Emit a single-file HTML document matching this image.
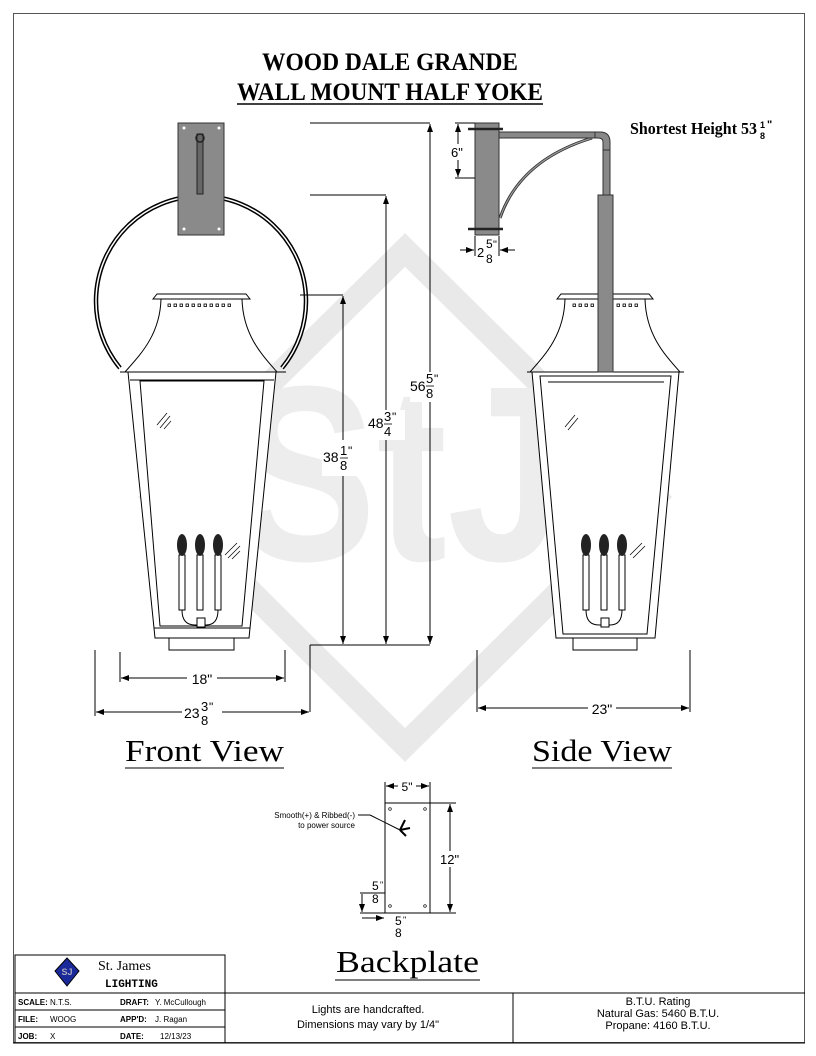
<!DOCTYPE html>
<html><head><meta charset="utf-8"><style>
html,body{margin:0;padding:0;background:#fff}
svg{display:block}
text{font-family:"Liberation Sans",sans-serif}
</style></head><body>
<svg width="816" height="1056" viewBox="0 0 816 1056" xmlns="http://www.w3.org/2000/svg">
<defs>
<marker id="a" markerWidth="8" markerHeight="6" refX="8" refY="3" orient="auto"><path d="M0,0 L8,3 L0,6 z" fill="#000"/></marker>
<marker id="b" markerWidth="8" markerHeight="6" refX="0" refY="3" orient="auto"><path d="M8,0 L0,3 L8,6 z" fill="#000"/></marker>
</defs>
<!-- watermark -->
<path d="M405,250 L655,497 L405,745 L155,497 Z" fill="none" stroke="#e9e9e9" stroke-width="24"/>
<text x="400" y="560" text-anchor="middle" font-size="250" font-weight="bold" fill="#ededed" textLength="330" lengthAdjust="spacingAndGlyphs">StJ</text>
<rect x="13.5" y="13.5" width="791" height="1029" fill="none" stroke="#555" stroke-width="1"/>
<!-- title -->
<text x="262" y="70" font-size="25" font-weight="bold" textLength="256" lengthAdjust="spacingAndGlyphs" style="font-family:'Liberation Serif',serif">WOOD DALE GRANDE</text>
<text x="237" y="100" font-size="25" font-weight="bold" textLength="306" lengthAdjust="spacingAndGlyphs" style="font-family:'Liberation Serif',serif">WALL MOUNT HALF YOKE</text>
<line x1="237" y1="104" x2="543" y2="104" stroke="#000" stroke-width="1.5"/>
<text x="630" y="134" font-size="17" font-weight="bold" textLength="127" lengthAdjust="spacingAndGlyphs" style="font-family:'Liberation Serif',serif">Shortest Height 53</text>
<text x="760" y="128" font-size="9" font-weight="bold">1</text>
<text x="760" y="139" font-size="9" font-weight="bold">8</text>
<text x="767" y="128" font-size="11" font-weight="bold">"</text>

<!-- FRONT VIEW -->
<path d="M120,368 A105,105 0 1,1 282,368" fill="none" stroke="#000" stroke-width="4.5"/>
<path d="M120,368 A105,105 0 1,1 282,368" fill="none" stroke="#fff" stroke-width="1.5"/>
<rect x="178" y="123" width="46" height="112" fill="#8a8a8a" stroke="#333"/>
<rect x="197" y="134" width="6" height="60" fill="#666" stroke="#222"/>
<circle cx="200" cy="138" r="4" fill="none" stroke="#222" stroke-width="1.5"/>
<circle cx="184" cy="128" r="1.5" fill="#fff"/><circle cx="219" cy="128" r="1.5" fill="#fff"/>
<circle cx="184" cy="229" r="1.5" fill="#fff"/><circle cx="219" cy="229" r="1.5" fill="#fff"/>
<path d="M153,299 L157,294 L246,294 L250,299 Z" fill="#fff" stroke="#000"/>
<path d="M161,299 C160,335 140,355 125,372 M242,299 C243,335 262,355 277,372" fill="none" stroke="#000"/>
<g fill="none" stroke="#000" stroke-width=".8">
<rect x="168" y="304" width="2.5" height="2.5"/><rect x="174" y="304" width="2.5" height="2.5"/><rect x="180" y="304" width="2.5" height="2.5"/><rect x="186" y="304" width="2.5" height="2.5"/><rect x="192" y="304" width="2.5" height="2.5"/><rect x="198" y="304" width="2.5" height="2.5"/><rect x="204" y="304" width="2.5" height="2.5"/><rect x="210" y="304" width="2.5" height="2.5"/><rect x="216" y="304" width="2.5" height="2.5"/><rect x="222" y="304" width="2.5" height="2.5"/><rect x="228" y="304" width="2.5" height="2.5"/>
</g>
<line x1="120" y1="372" x2="286" y2="372" stroke="#000"/>
<path d="M128,372 L276,372 L249,638 L155,638 Z" fill="#fff" stroke="#000"/>
<path d="M140,381 L264,381 L242,626 L160,626 Z" fill="none" stroke="#000"/>
<line x1="130" y1="380" x2="274" y2="380" stroke="#000"/>
<line x1="154" y1="628" x2="250" y2="628" stroke="#000"/>
<rect x="169" y="638" width="65" height="12" fill="#fff" stroke="#000"/>
<g stroke="#000" fill="#fff">
<rect x="179" y="555" width="6" height="55"/><rect x="197" y="555" width="6" height="55"/><rect x="215" y="555" width="6" height="55"/>
<path d="M182,610 Q182,625 195,625 L206,625 Q218,625 218,610" fill="none"/>
<rect x="197" y="618" width="8" height="9"/>
</g>
<g fill="#222"><ellipse cx="182" cy="545" rx="5" ry="11"/><ellipse cx="200" cy="545" rx="5" ry="11"/><ellipse cx="218" cy="545" rx="5" ry="11"/></g>
<g stroke="#000" stroke-width=".7"><line x1="157" y1="425" x2="167" y2="413"/><line x1="160" y1="428" x2="170" y2="416"/><line x1="164" y1="429" x2="171" y2="421"/>
<line x1="225" y1="555" x2="237" y2="543"/><line x1="228" y1="558" x2="240" y2="546"/><line x1="232" y1="559" x2="240" y2="551"/></g>

<!-- vertical dims -->
<g stroke="#000" stroke-width="1" fill="none">
<line x1="310" y1="123" x2="430" y2="123"/>
<line x1="310" y1="195" x2="386" y2="195"/>
<line x1="300" y1="295" x2="343" y2="295"/>
<line x1="310" y1="645" x2="430" y2="645"/>
<line x1="310" y1="645" x2="310" y2="712"/>
<line x1="343" y1="296" x2="343" y2="644" marker-start="url(#b)" marker-end="url(#a)"/>
<line x1="386" y1="196" x2="386" y2="644" marker-start="url(#b)" marker-end="url(#a)"/>
<line x1="430" y1="124" x2="430" y2="644" marker-start="url(#b)" marker-end="url(#a)"/>
</g>
<rect x="322" y="440" width="38" height="36" fill="#fff"/>
<text x="323" y="462" font-size="14">38</text><text x="340" y="455" font-size="13">1</text><text x="340" y="470" font-size="13">8</text><text x="348" y="455" font-size="12">"</text>
<line x1="340" y1="458" x2="348" y2="458" stroke="#000" stroke-width=".8"/>
<rect x="367" y="410" width="38" height="30" fill="#fff"/>
<text x="368" y="428" font-size="14">48</text><text x="384" y="421" font-size="13">3</text><text x="384" y="436" font-size="13">4</text><text x="392" y="421" font-size="12">"</text>
<line x1="384" y1="424" x2="392" y2="424" stroke="#000" stroke-width=".8"/>
<rect x="410" y="372" width="38" height="30" fill="#fff"/>
<text x="410" y="391" font-size="14">56</text><text x="426" y="383" font-size="13">5</text><text x="426" y="398" font-size="13">8</text><text x="434" y="383" font-size="12">"</text>
<line x1="426" y1="386" x2="434" y2="386" stroke="#000" stroke-width=".8"/>

<g stroke="#000" fill="none">
<line x1="120" y1="652" x2="120" y2="682"/><line x1="285" y1="650" x2="285" y2="682"/>
<line x1="121" y1="678" x2="284" y2="678" marker-start="url(#b)" marker-end="url(#a)"/>
<line x1="95" y1="650" x2="95" y2="716"/>
<line x1="96" y1="712" x2="309" y2="712" marker-start="url(#b)" marker-end="url(#a)"/>
</g>
<rect x="187" y="670" width="30" height="16" fill="#fff"/>
<text x="202" y="684" text-anchor="middle" font-size="14">18"</text>
<rect x="182" y="700" width="40" height="28" fill="#fff"/>
<text x="184" y="718" font-size="14">23</text><text x="201" y="711" font-size="13">3</text><text x="201" y="725" font-size="13">8</text><text x="209" y="711" font-size="12">"</text>
<text x="125" y="761" font-size="31" textLength="159" lengthAdjust="spacingAndGlyphs" style="font-family:'Liberation Serif',serif">Front View</text>
<line x1="125" y1="768" x2="284" y2="768" stroke="#000"/>

<!-- SIDE VIEW -->
<path d="M500,218 Q520,160 592,138" fill="none" stroke="#333" stroke-width="3"/>
<path d="M500,218 Q520,160 592,138" fill="none" stroke="#999" stroke-width="1.2"/>
<rect x="499" y="132" width="96" height="6" fill="#888" stroke="#333"/>
<path d="M595,132 L600,132 Q610,132 610,142 L610,150 L603,150 L603,142 Q603,138 598,138 L595,138 Z" fill="#888" stroke="#333"/>
<rect x="603" y="150" width="7" height="45" fill="#888" stroke="#333"/>
<rect x="475" y="123" width="24" height="112" fill="#8a8a8a" stroke="#333"/>
<line x1="468" y1="129" x2="503" y2="129" stroke="#222" stroke-width="2.5"/>
<line x1="468" y1="229" x2="503" y2="229" stroke="#222" stroke-width="2.5"/>
<path d="M557,299 L561,294 L649,294 L653,299 Z" fill="#fff" stroke="#000"/>
<path d="M565,299 C564,335 545,355 530,372 M645,299 C646,335 665,355 680,372" fill="none" stroke="#000"/>
<g fill="none" stroke="#000" stroke-width=".8">
<rect x="573" y="304" width="2.5" height="2.5"/><rect x="579" y="304" width="2.5" height="2.5"/><rect x="585" y="304" width="2.5" height="2.5"/><rect x="591" y="304" width="2.5" height="2.5"/><rect x="617" y="304" width="2.5" height="2.5"/><rect x="623" y="304" width="2.5" height="2.5"/><rect x="629" y="304" width="2.5" height="2.5"/><rect x="635" y="304" width="2.5" height="2.5"/>
</g>
<line x1="527" y1="372" x2="684" y2="372" stroke="#000"/>
<path d="M532,372 L679,372 L655,638 L556,638 Z" fill="#fff" stroke="#000"/>
<path d="M540,376 L671,376 L647,634 L563,634 Z" fill="none" stroke="#000"/>
<line x1="548" y1="382" x2="664" y2="382" stroke="#000"/>
<rect x="573" y="638" width="64" height="12" fill="#fff" stroke="#000"/>
<rect x="598" y="195" width="15" height="177" fill="#8a8a8a" stroke="#333"/>
<g stroke="#000" fill="#fff">
<rect x="583" y="555" width="6" height="55"/><rect x="601" y="555" width="6" height="55"/><rect x="619" y="555" width="6" height="55"/>
<path d="M586,610 Q586,625 599,625 L610,625 Q622,625 622,610" fill="none"/>
<rect x="601" y="618" width="8" height="9"/>
</g>
<g fill="#222"><ellipse cx="586" cy="545" rx="5" ry="11"/><ellipse cx="604" cy="545" rx="5" ry="11"/><ellipse cx="622" cy="545" rx="5" ry="11"/></g>
<g stroke="#000" stroke-width=".7"><line x1="565" y1="427" x2="575" y2="415"/><line x1="568" y1="430" x2="578" y2="418"/>
<line x1="630" y1="555" x2="642" y2="543"/><line x1="633" y1="558" x2="645" y2="546"/></g>
<g stroke="#000" fill="none">
<line x1="455" y1="123" x2="475" y2="123"/><line x1="455" y1="178" x2="475" y2="178"/>
<line x1="458" y1="124" x2="458" y2="177" marker-start="url(#b)" marker-end="url(#a)"/>
<line x1="475" y1="236" x2="475" y2="256"/><line x1="499" y1="236" x2="499" y2="256"/>
<line x1="460" y1="250" x2="474" y2="250" marker-end="url(#a)"/><line x1="515" y1="250" x2="500" y2="250" marker-end="url(#a)"/>
<line x1="477" y1="650" x2="477" y2="712"/><line x1="690" y1="650" x2="690" y2="712"/>
<line x1="478" y1="708" x2="689" y2="708" marker-start="url(#b)" marker-end="url(#a)"/>
</g>
<rect x="448" y="144" width="18" height="16" fill="#fff"/>
<text x="451" y="157" font-size="13">6"</text>
<text x="477" y="257" font-size="13">2</text><text x="486" y="248" font-size="12">5</text><text x="486" y="263" font-size="12">8</text><text x="493" y="248" font-size="11">"</text>
<rect x="588" y="700" width="28" height="16" fill="#fff"/>
<text x="602" y="714" text-anchor="middle" font-size="14">23"</text>
<text x="532" y="761" font-size="31" textLength="140" lengthAdjust="spacingAndGlyphs" style="font-family:'Liberation Serif',serif">Side View</text>
<line x1="532" y1="768" x2="672" y2="768" stroke="#000"/>

<!-- BACKPLATE -->
<rect x="385" y="803" width="45" height="110" fill="#fff" stroke="#000"/>
<g fill="none" stroke="#000" stroke-width=".7"><circle cx="390" cy="809" r="1.3"/><circle cx="425" cy="809" r="1.3"/><circle cx="390" cy="906" r="1.3"/><circle cx="425" cy="906" r="1.3"/></g>
<g stroke="#000" fill="none">
<line x1="385" y1="782" x2="385" y2="803"/><line x1="430" y1="782" x2="430" y2="803"/>
<line x1="386" y1="786" x2="429" y2="786" marker-start="url(#b)" marker-end="url(#a)"/>
<line x1="430" y1="803" x2="456" y2="803"/><line x1="430" y1="913" x2="456" y2="913"/>
<line x1="450" y1="804" x2="450" y2="912" marker-start="url(#b)" marker-end="url(#a)"/>
<line x1="358" y1="815" x2="370" y2="815"/><line x1="370" y1="815" x2="400" y2="830"/>
<line x1="360" y1="893" x2="385" y2="893"/><line x1="362" y1="894" x2="362" y2="912" marker-end="url(#a)"/>
<line x1="360" y1="913" x2="385" y2="913"/>
<line x1="362" y1="918" x2="384" y2="918" marker-end="url(#a)"/>
</g>
<path d="M400,830 L405,820 M400,830 L410,828 M400,830 L406,836" stroke="#000" stroke-width="2"/>
<rect x="398" y="779" width="18" height="14" fill="#fff"/>
<text x="407" y="791" text-anchor="middle" font-size="12">5"</text>
<rect x="441" y="851" width="18" height="16" fill="#fff"/>
<text x="440" y="864" font-size="13">12"</text>
<text x="355" y="818" text-anchor="end" font-size="8">Smooth(+) &amp; Ribbed(-)</text>
<text x="355" y="828" text-anchor="end" font-size="8">to power source</text>
<text x="372" y="890" font-size="12">5</text><text x="372" y="903" font-size="12">8</text><text x="380" y="888" font-size="9">"</text>
<text x="395" y="925" font-size="12">5</text><text x="395" y="937" font-size="12">8</text><text x="403" y="923" font-size="9">"</text>
<text x="336" y="972" font-size="31" textLength="143" lengthAdjust="spacingAndGlyphs" style="font-family:'Liberation Serif',serif">Backplate</text>
<line x1="335" y1="980" x2="480" y2="980" stroke="#000"/>

<!-- TITLE BLOCK -->
<g stroke="#000" fill="none" stroke-width="1">
<rect x="15" y="955" width="210" height="88"/>
<line x1="15" y1="993" x2="805" y2="993"/>
<line x1="15" y1="1010" x2="225" y2="1010"/>
<line x1="15" y1="1027" x2="225" y2="1027"/>
<line x1="225" y1="993" x2="225" y2="1043"/>
<line x1="513" y1="993" x2="513" y2="1043"/>
<line x1="13" y1="1043" x2="805" y2="1043"/>
</g>
<path d="M67,958 L79,971 L67,986 L55,971 Z" fill="#1a2a9a" stroke="#000"/>
<text x="67" y="975" text-anchor="middle" font-size="9" fill="#aab" font-weight="bold">SJ</text>
<text x="98" y="970" font-size="14" style="font-family:'Liberation Serif',serif">St. James</text>
<text x="105" y="987" font-size="11" font-weight="bold" style="font-family:'Liberation Mono',monospace">LIGHTING</text>
<g font-size="8">
<text x="18" y="1005" font-weight="bold">SCALE:</text><text x="50" y="1005">N.T.S.</text>
<text x="120" y="1005" font-weight="bold">DRAFT:</text><text x="155" y="1005">Y. McCullough</text>
<text x="18" y="1022" font-weight="bold">FILE:</text><text x="50" y="1022">WOOG</text>
<text x="120" y="1022" font-weight="bold">APP'D:</text><text x="155" y="1022">J. Ragan</text>
<text x="18" y="1039" font-weight="bold">JOB:</text><text x="50" y="1039">X</text>
<text x="120" y="1039" font-weight="bold">DATE:</text><text x="160" y="1039">12/13/23</text>
</g>
<text x="368" y="1013" text-anchor="middle" font-size="11">Lights are handcrafted.</text>
<text x="368" y="1028" text-anchor="middle" font-size="11">Dimensions may vary by 1/4"</text>
<text x="658" y="1005" text-anchor="middle" font-size="11">B.T.U. Rating</text>
<text x="658" y="1017" text-anchor="middle" font-size="11">Natural Gas: 5460 B.T.U.</text>
<text x="658" y="1029" text-anchor="middle" font-size="11">Propane: 4160 B.T.U.</text>
</svg>
</body></html>
